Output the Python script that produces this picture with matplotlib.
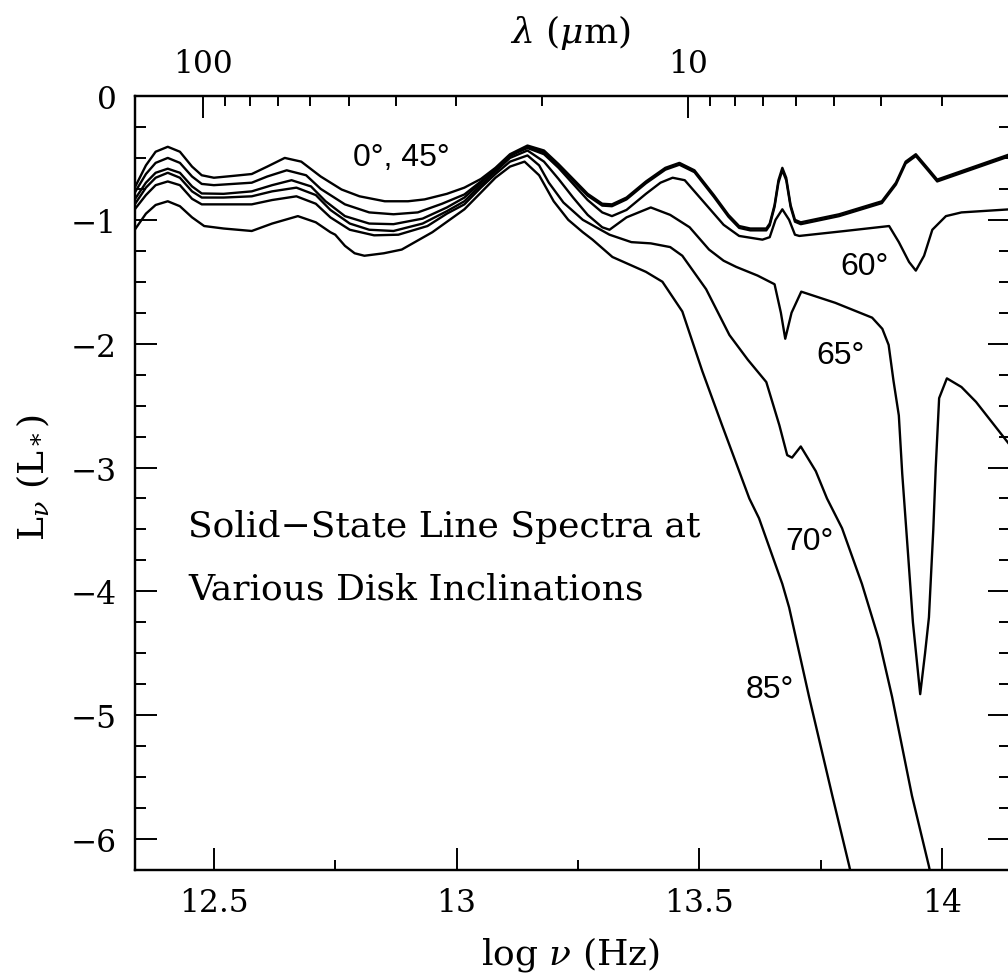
import matplotlib
matplotlib.use("Agg")
import matplotlib.pyplot as plt
import numpy as np

plt.rcParams['font.family'] = ['DejaVu Serif']
plt.rcParams['mathtext.fontset'] = 'dejavuserif'

# log nu (Hz) and L_nu (L_*), one pair of lists per inclination
nu_0 = [12.337, 12.36, 12.38, 12.405, 12.43, 12.455, 12.475, 12.50, 12.54, 12.578, 12.61, 12.646,
        12.68, 12.72, 12.763, 12.80, 12.852, 12.90, 12.934, 12.98, 13.016, 13.05, 13.08, 13.11,
        13.146, 13.18, 13.21, 13.24, 13.27, 13.30, 13.32, 13.35, 13.39, 13.43, 13.459, 13.49,
        13.53, 13.56, 13.582, 13.605, 13.638, 13.645, 13.655, 13.663, 13.671, 13.679, 13.688,
        13.697, 13.709, 13.788, 13.876, 13.905, 13.925, 13.946, 13.973, 13.99, 14.14]
L_0 = [-0.74, -0.56, -0.45, -0.41, -0.45, -0.57, -0.64, -0.66, -0.645, -0.63, -0.57, -0.50,
       -0.53, -0.65, -0.755, -0.81, -0.85, -0.85, -0.835, -0.79, -0.74, -0.67, -0.58, -0.47,
       -0.40, -0.44, -0.55, -0.67, -0.79, -0.87, -0.875, -0.82, -0.69, -0.58, -0.54, -0.60,
       -0.80, -0.96, -1.05, -1.07, -1.07, -1.03, -0.88, -0.68, -0.58, -0.66, -0.88,
       -1.00, -1.02, -0.955, -0.85, -0.70, -0.53, -0.47, -0.595, -0.675, -0.47]

nu_45 = [12.337, 12.36, 12.38, 12.405, 12.43, 12.455, 12.475, 12.50, 12.578, 12.61, 12.65, 12.69,
         12.72, 12.77, 12.82, 12.87, 12.92, 12.97, 13.016, 13.05, 13.08, 13.11, 13.146, 13.18,
         13.21, 13.24, 13.27, 13.30, 13.32, 13.35, 13.39, 13.43, 13.459, 13.49, 13.53, 13.56,
         13.582, 13.605, 13.638, 13.645, 13.655, 13.663, 13.671, 13.679, 13.688, 13.697, 13.709,
         13.788, 13.876, 13.905, 13.925, 13.946, 13.973, 13.99, 14.14]
L_45 = [-0.78, -0.63, -0.54, -0.50, -0.54, -0.65, -0.71, -0.72, -0.70, -0.65, -0.60, -0.64,
        -0.75, -0.875, -0.94, -0.955, -0.94, -0.87, -0.795, -0.69, -0.595, -0.485, -0.41, -0.455,
        -0.565, -0.685, -0.805, -0.885, -0.89, -0.835, -0.705, -0.595, -0.555, -0.615, -0.815, -0.975,
        -1.065, -1.085, -1.085, -1.045, -0.895, -0.70, -0.60, -0.68, -0.895, -1.015, -1.035,
        -0.97, -0.865, -0.715, -0.545, -0.485, -0.61, -0.69, -0.485]

nu_60 = [12.337, 12.36, 12.38, 12.405, 12.43, 12.455, 12.475, 12.52, 12.578, 12.62, 12.66, 12.70,
         12.73, 12.77, 12.82, 12.87, 12.93, 12.98, 13.016, 13.05, 13.08, 13.11, 13.146, 13.18,
         13.21, 13.24, 13.27, 13.30, 13.32, 13.35, 13.39, 13.42, 13.445, 13.47, 13.51, 13.55,
         13.582, 13.63, 13.645, 13.657, 13.671, 13.685, 13.697, 13.706, 13.80, 13.891, 13.911,
         13.932, 13.946, 13.963, 13.98, 14.008, 14.04, 14.14]
L_60 = [-0.835, -0.70, -0.62, -0.587, -0.62, -0.73, -0.787, -0.79, -0.77, -0.72, -0.68, -0.73,
        -0.85, -0.97, -1.03, -1.035, -0.99, -0.90, -0.82, -0.70, -0.59, -0.48, -0.42, -0.47,
        -0.58, -0.71, -0.84, -0.94, -0.97, -0.92, -0.79, -0.70, -0.66, -0.68, -0.86, -1.04,
        -1.13, -1.16, -1.14, -1.00, -0.915, -1.00, -1.12, -1.13, -1.09, -1.05, -1.18,
        -1.34, -1.41, -1.29, -1.08, -0.97, -0.94, -0.915]

nu_65 = [12.337, 12.36, 12.38, 12.405, 12.43, 12.455, 12.475, 12.52, 12.578, 12.62, 12.67, 12.71,
         12.74, 12.78, 12.82, 12.87, 12.93, 12.98, 13.016, 13.05, 13.08, 13.11, 13.146, 13.18,
         13.21, 13.24, 13.27, 13.30, 13.315, 13.35, 13.40, 13.44, 13.48, 13.52, 13.55, 13.576,
         13.62, 13.655, 13.668, 13.677, 13.69, 13.71, 13.78, 13.856, 13.877, 13.89, 13.90,
         13.911, 13.918, 13.93, 13.94, 13.955, 13.965, 13.973, 13.982, 13.987, 13.994, 14.01,
         14.04, 14.07, 14.14]
L_65 = [-0.875, -0.74, -0.66, -0.62, -0.66, -0.77, -0.82, -0.82, -0.81, -0.77, -0.74, -0.80,
        -0.92, -1.03, -1.08, -1.09, -1.03, -0.93, -0.85, -0.72, -0.61, -0.50, -0.44, -0.53,
        -0.67, -0.82, -0.96, -1.06, -1.08, -0.98, -0.90, -0.96, -1.06, -1.24, -1.33, -1.38,
        -1.45, -1.52, -1.75, -1.96, -1.75, -1.58, -1.67, -1.79, -1.88, -2.01, -2.30,
        -2.58, -3.05, -3.70, -4.25, -4.83, -4.50, -4.21, -3.50, -3.00, -2.44, -2.28,
        -2.35, -2.47, -2.82]

nu_70 = [12.337, 12.36, 12.38, 12.405, 12.43, 12.455, 12.475, 12.52, 12.578, 12.62, 12.67, 12.71,
         12.74, 12.78, 12.83, 12.88, 12.94, 12.98, 13.016, 13.05, 13.08, 13.11, 13.146, 13.17,
         13.19, 13.22, 13.26, 13.315, 13.36, 13.40, 13.44, 13.465, 13.514, 13.562, 13.60, 13.638,
         13.665, 13.681, 13.691, 13.709, 13.74, 13.763, 13.794, 13.835, 13.87, 13.897, 13.938,
         13.973, 13.985]
L_70 = [-0.915, -0.80, -0.72, -0.69, -0.72, -0.83, -0.875, -0.875, -0.875, -0.84, -0.81, -0.87,
        -0.98, -1.08, -1.125, -1.12, -1.05, -0.95, -0.875, -0.74, -0.63, -0.53, -0.48, -0.56,
        -0.70, -0.86, -1.00, -1.12, -1.18, -1.19, -1.22, -1.29, -1.56, -1.93, -2.13, -2.31,
        -2.66, -2.90, -2.92, -2.83, -3.03, -3.25, -3.49, -3.94, -4.39, -4.85, -5.65,
        -6.22, -6.45]

nu_85 = [12.337, 12.36, 12.38, 12.405, 12.43, 12.455, 12.48, 12.52, 12.578, 12.62, 12.673, 12.71,
         12.74, 12.75, 12.77, 12.79, 12.81, 12.85, 12.887, 12.95, 13.016, 13.05, 13.08, 13.11,
         13.14, 13.17, 13.20, 13.23, 13.26, 13.28, 13.321, 13.39, 13.424, 13.465, 13.506, 13.547,
         13.603, 13.623, 13.671, 13.685, 13.726, 13.774, 13.809, 13.82]
L_85 = [-1.08, -0.95, -0.88, -0.85, -0.89, -0.98, -1.05, -1.07, -1.09, -1.03, -0.97, -1.02,
        -1.10, -1.12, -1.21, -1.27, -1.29, -1.27, -1.24, -1.10, -0.915, -0.78, -0.66, -0.57,
        -0.53, -0.64, -0.85, -1.00, -1.10, -1.16, -1.30, -1.42, -1.50, -1.74, -2.22, -2.66,
        -3.25, -3.41, -3.94, -4.13, -4.85, -5.65, -6.22, -6.42]

curves = [(nu_0, L_0), (nu_45, L_45), (nu_60, L_60), (nu_65, L_65), (nu_70, L_70), (nu_85, L_85)]

# angle labels and where they sit (data coords)
angle_labels = ["0°, 45°", "60°", "65°", "70°", "85°"]
angle_x = [12.887, 13.84, 13.79, 13.726, 13.646]
angle_y = [-0.49, -1.37, -2.09, -3.59, -4.79]

# axis ticks
x_major = [12.5, 13.0, 13.5, 14.0]
x_major_labels = ["12.5", "13", "13.5", "14"]
x_minor = [12.75, 13.25, 13.75]
y_major = [0, -1, -2, -3, -4, -5, -6]
y_major_labels = ["0", "\u22121", "\u22122", "\u22123", "\u22124", "\u22125", "\u22126"]
y_minor = list(np.arange(0, -6.3, -0.25))

# wavelength axis on top (microns)
lam_major = [100, 10]
lam_minor = [90, 80, 70, 60, 50, 40, 30, 20, 9, 8, 7, 6, 5, 4, 3]
c_um = 2.998e14  # speed of light in micron/s

W, H = 1008, 978
fig = plt.figure(figsize=(W / 100, H / 100), dpi=100)
ax = fig.add_axes([135 / W, 1 - 871 / H, 875 / W, 774 / H])

for nu, L in curves:
    ax.plot(nu, L, color='black', lw=1.7, solid_joinstyle='round')

ax.set_xlim(12.3375, 14.14)
ax.set_ylim(-6.22, 0)

ax.set_xticks(x_major)
ax.set_xticklabels(x_major_labels)
ax.set_xticks(x_minor, minor=True)
ax.set_yticks(y_major)
ax.set_yticklabels(y_major_labels)
ax.set_yticks(y_minor, minor=True)
ax.tick_params(which='both', direction='in', top=False, right=True, width=1.4)
ax.tick_params(which='major', length=15.5, labelsize=22.5)
ax.tick_params(which='minor', length=8)
ax.tick_params(axis='x', which='major', pad=12)
ax.tick_params(axis='x', which='minor', length=7)
ax.tick_params(axis='y', which='major', pad=13)
for s in ax.spines.values():
    s.set_linewidth(1.6)

# top axis in wavelength
ax2 = ax.twiny()
ax2.set_xlim(ax.get_xlim())
ax2.set_xticks([np.log10(c_um / l) for l in lam_major])
ax2.set_xticklabels([str(l) for l in lam_major])
ax2.set_xticks([np.log10(c_um / l) for l in lam_minor], minor=True)
ax2.tick_params(which='both', direction='in', width=1.4)
ax2.tick_params(which='major', length=15.5, labelsize=22.5, pad=12)
ax2.tick_params(which='minor', length=7.5)
for s in ax2.spines.values():
    s.set_linewidth(1.6)

for lab, x, y in zip(angle_labels, angle_x, angle_y):
    ax.text(x, y, lab, ha='center', va='center', fontsize=23,
            family=['Liberation Sans', 'DejaVu Sans'])

ax.text(12.4465, -3.47, "Solid\u2212State Line Spectra at", ha='left', va='center', fontsize=26)
ax.text(12.4465, -3.98, "Various Disk Inclinations", ha='left', va='center', fontsize=26)

fig.text(571 / W, 1 - 955 / H, r"log $\nu$ (Hz)", ha='center', va='center', fontsize=26)
fig.text(570 / W, 1 - 33 / H, r"$\lambda$ ($\mu$m)", ha='center', va='center', fontsize=26)
fig.text(33 / W, 1 - 478 / H, r"L$_\nu$ (L$_*$)", ha='center', va='center', fontsize=26, rotation=90)

fig.savefig("out.png", dpi=100)
